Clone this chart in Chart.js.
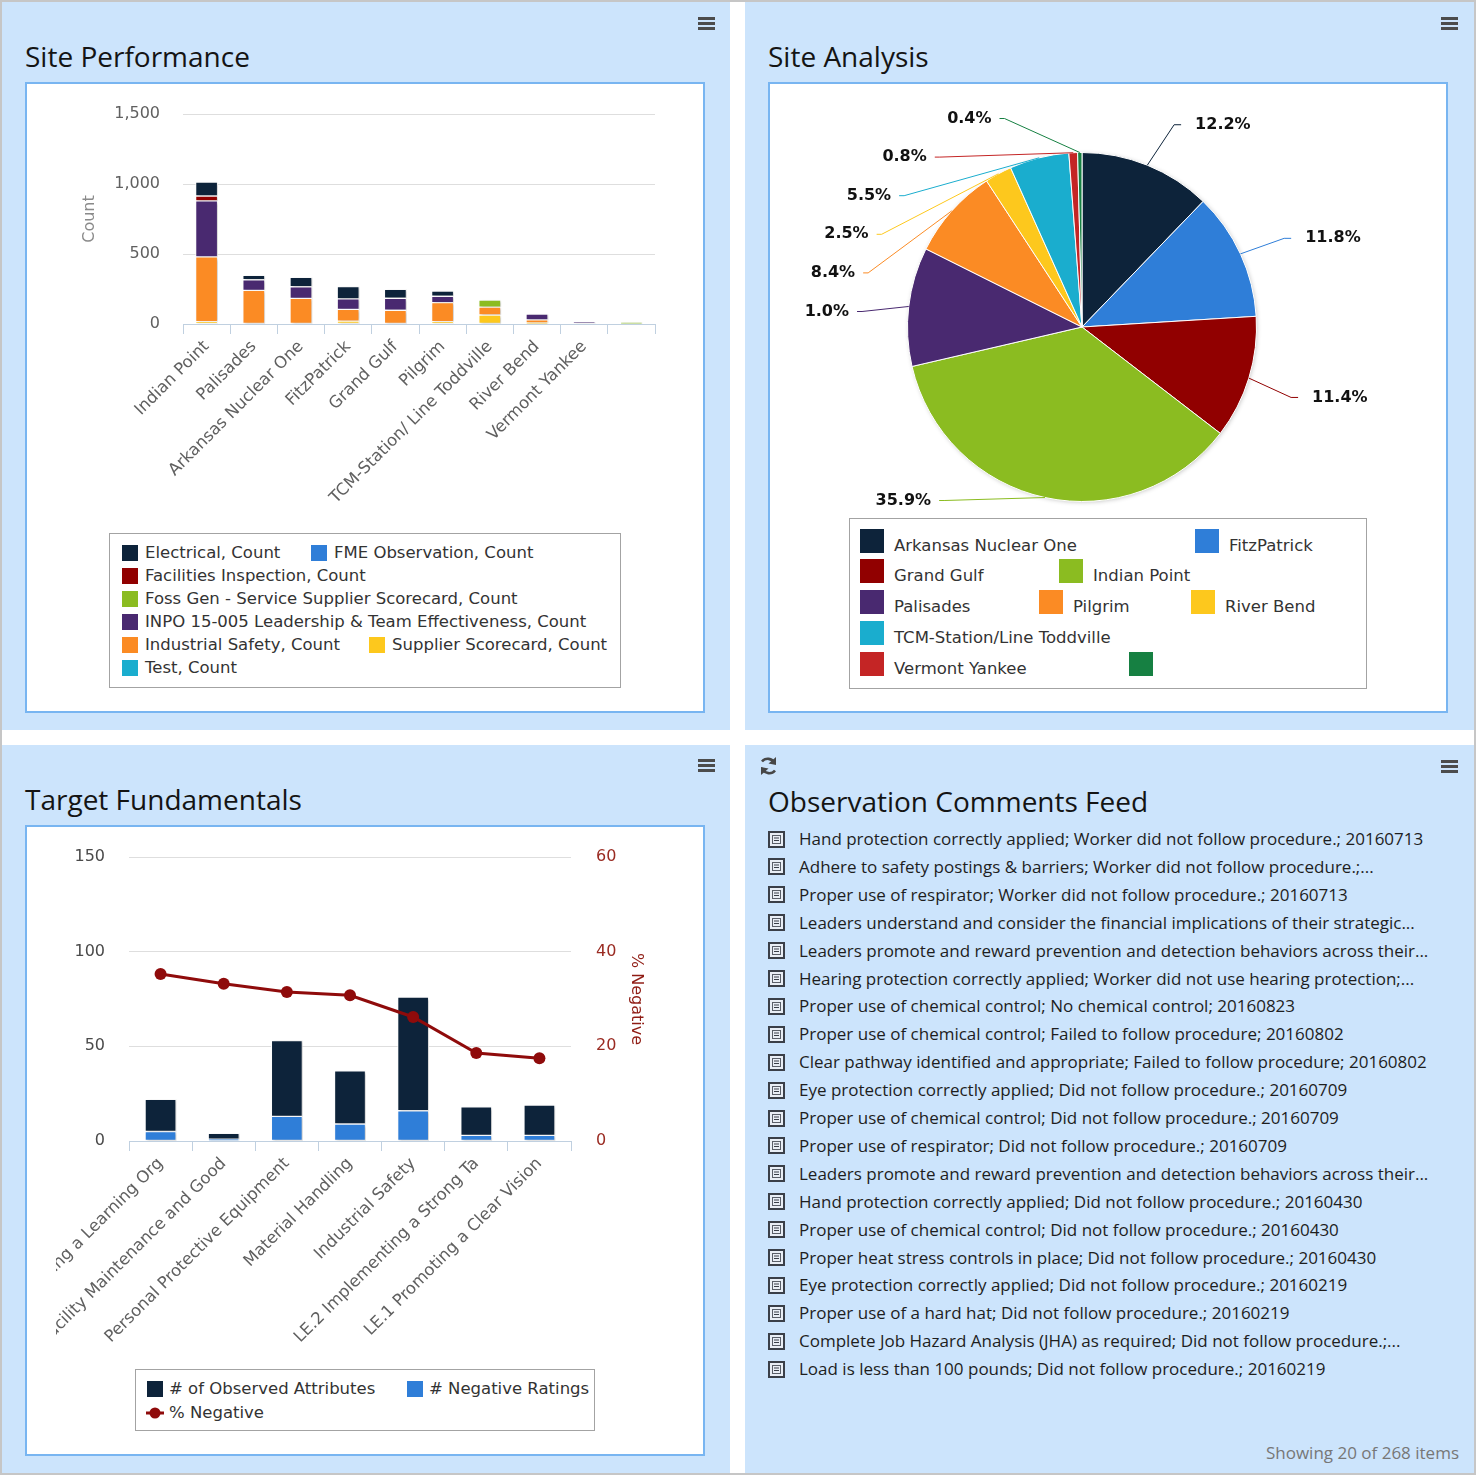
<!DOCTYPE html>
<html>
<head>
<meta charset="utf-8">
<title>Dashboard</title>
<script src="https://cdn.jsdelivr.net/npm/chart.js@4.4.1/dist/chart.umd.min.js"></script>
<style>
  html, body { margin:0; padding:0; background:#fff; }
  #page { position:relative; width:1476px; height:1475px; overflow:hidden; background:#fff; }
  #frame { position:absolute; left:0; top:0; width:1476px; height:1475px; box-sizing:border-box; border:2px solid #c6c6c6; }
  .panel { position:absolute; background:#cce4fc; }
  .box { position:absolute; background:#fff; border:2px solid #78b5f1; box-sizing:border-box; }
  .title { position:absolute; font-family:'Open Sans', sans-serif; font-size:28px; line-height:1; color:#141414; white-space:nowrap; }
  .menu { position:absolute; width:17px; height:14px; }
  .menu i { position:absolute; left:0; width:17px; height:3px; background:#4c4c4c; }
  canvas { position:absolute; }
  .legend { position:absolute; background:#fff; border:1px solid #a3a3a3; box-sizing:border-box; }
  .li { position:absolute; font-family:'DejaVu Sans', sans-serif; font-size:16.5px; line-height:1; color:#333; white-space:nowrap; }
  .sym { position:absolute; }
  .feed { position:absolute; font-family:'Open Sans', sans-serif; font-size:17px; line-height:1; color:#1e1e1e; white-space:nowrap; }
</style>
</head>
<body>
<div id="page">
  <div id="frame"></div>
  <div class="panel" style="left:2px;top:2px;width:728px;height:728px;"></div>
  <div class="panel" style="left:745px;top:2px;width:729px;height:728px;"></div>
  <div class="panel" style="left:2px;top:745px;width:728px;height:728px;"></div>
  <div class="panel" style="left:745px;top:745px;width:729px;height:728px;"></div>

  <div class="box" style="left:25px;top:82px;width:680px;height:631px;"></div>
  <div class="box" style="left:768px;top:82px;width:680px;height:631px;"></div>
  <div class="box" style="left:25px;top:825px;width:680px;height:631px;"></div>

  <div class="title" style="left:25px;top:42px;">Site Performance</div>
  <div class="title" style="left:768px;top:42px;">Site Analysis</div>
  <div class="title" style="left:25px;top:785px;">Target Fundamentals</div>
  <div class="title" style="left:768px;top:787px;">Observation Comments Feed</div>

  <div class="menu" style="left:698px;top:17px;"><i style="top:0"></i><i style="top:5px"></i><i style="top:10px"></i></div>
  <div class="menu" style="left:1441px;top:17px;"><i style="top:0"></i><i style="top:5px"></i><i style="top:10px"></i></div>
  <div class="menu" style="left:698px;top:759px;"><i style="top:0"></i><i style="top:5px"></i><i style="top:10px"></i></div>
  <div class="menu" style="left:1441px;top:760px;"><i style="top:0"></i><i style="top:5px"></i><i style="top:10px"></i></div>

  <svg style="position:absolute;left:758px;top:755px;" width="21" height="22" viewBox="0 0 21 22">
    <path d="M16.5 8 A7.5 7.5 0 0 0 4 6.5" fill="none" stroke="#474747" stroke-width="2.6"/>
    <polygon points="18,2 18,10 10.5,8.5" fill="#474747"/>
    <path d="M4.5 14 A7.5 7.5 0 0 0 17 15.5" fill="none" stroke="#474747" stroke-width="2.6"/>
    <polygon points="3,20 3,12 10.5,13.5" fill="#474747"/>
  </svg>

  <canvas id="c1" width="676" height="445" style="left:27px;top:84px;width:676px;height:445px;"></canvas>
  <canvas id="c2" width="676" height="430" style="left:770px;top:84px;width:676px;height:430px;"></canvas>
  <canvas id="c3" width="647" height="535" style="left:56px;top:827px;width:647px;height:535px;"></canvas>

  <div class="legend" style="left:109px;top:533px;width:512px;height:155px;"></div>
  <div class="legend" style="left:849px;top:518px;width:518px;height:171px;"></div>
  <div class="legend" style="left:135px;top:1369px;width:460px;height:62px;"></div>

  <div class="feed" id="feedCount" style="right:17px;top:1444px;color:#777;">Showing 20 of 268 items</div>
</div>

<script>
// ---------------- DATA ----------------
// Site Performance (stacked columns)
const siteCategories = ['Indian Point', 'Palisades', 'Arkansas Nuclear One', 'FitzPatrick', 'Grand Gulf', 'Pilgrim', 'TCM-Station/ Line Toddville', 'River Bend', 'Vermont Yankee', ''];
const seriesNames = ['Electrical, Count', 'FME Observation, Count', 'Facilities Inspection, Count', 'Foss Gen - Service Supplier Scorecard, Count', 'INPO 15-005 Leadership & Team Effectiveness, Count', 'Industrial Safety, Count', 'Supplier Scorecard, Count', 'Test, Count'];
const electricalCount = [100, 31, 67, 88, 64, 38, null, null, null, null];
const fmeObservationCount = [null, null, null, null, null, null, null, null, null, null];
const facilitiesInspectionCount = [35, null, null, null, null, null, null, null, null, null];
const fossGenCount = [null, null, null, null, null, null, 50, null, null, 10];
const inpoLeadershipCount = [400, 76, 83, 76, 86, 45, null, 40, 14, null];
const industrialSafetyCount = [462, 240, 183, 83, 98, 136, 57, 22, null, null];
const supplierScorecardCount = [17, null, null, 21, null, 17, 64, 8, null, null];
const testCount = [null, null, null, null, null, null, null, null, null, null];
const siteYTicks = [0, 500, 1000, 1500];

// Site Analysis (pie)
const pieCategories = ['Arkansas Nuclear One', 'FitzPatrick', 'Grand Gulf', 'Indian Point', 'Palisades', 'Pilgrim', 'River Bend', 'TCM-Station/Line Toddville', 'Vermont Yankee', ''];
const pieValues = [12.2, 11.8, 11.4, 35.9, 11.0, 8.4, 2.5, 5.5, 0.8, 0.4];
const pieValueLabels = ['12.2%', '11.8%', '11.4%', '35.9%', '1.0%', '8.4%', '2.5%', '5.5%', '0.8%', '0.4%'];

// Target Fundamentals
const targetCategories = ['Fostering a Learning Org', 'Facility Maintenance and Good', 'Personal Protective Equipment', 'Material Handling', 'Industrial Safety', 'LE.2 Implementing a Strong Ta', 'LE.1 Promoting a Clear Vision'];
const observedAttributes = [17, 3, 40, 28, 60, 15, 16];
const negativeRatings = [5, 1, 13, 9, 16, 3, 3];
const percentNegative = [35.3, 33.2, 31.5, 30.8, 26.2, 18.6, 17.5];
const targetSeriesNames = ['# of Observed Attributes', '# Negative Ratings', '% Negative'];

// Observation feed
const feedItems = [
  'Hand protection correctly applied; Worker did not follow procedure.; 20160713',
  'Adhere to safety postings & barriers; Worker did not follow procedure.;...',
  'Proper use of respirator; Worker did not follow procedure.; 20160713',
  'Leaders understand and consider the financial implications of their strategic...',
  'Leaders promote and reward prevention and detection behaviors across their...',
  'Hearing protection correctly applied; Worker did not use hearing protection;...',
  'Proper use of chemical control; No chemical control; 20160823',
  'Proper use of chemical control; Failed to follow procedure; 20160802',
  'Clear pathway identified and appropriate; Failed to follow procedure; 20160802',
  'Eye protection correctly applied; Did not follow procedure.; 20160709',
  'Proper use of chemical control; Did not follow procedure.; 20160709',
  'Proper use of respirator; Did not follow procedure.; 20160709',
  'Leaders promote and reward prevention and detection behaviors across their...',
  'Hand protection correctly applied; Did not follow procedure.; 20160430',
  'Proper use of chemical control; Did not follow procedure.; 20160430',
  'Proper heat stress controls in place; Did not follow procedure.; 20160430',
  'Eye protection correctly applied; Did not follow procedure.; 20160219',
  'Proper use of a hard hat; Did not follow procedure.; 20160219',
  'Complete Job Hazard Analysis (JHA) as required; Did not follow procedure.;...',
  'Load is less than 100 pounds; Did not follow procedure.; 20160219'
];

// ---------------- STYLE / LAYOUT ----------------
const seriesColors = ['#0d233a', '#2f7ed8', '#910000', '#8bbc21', '#492970', '#fb8b24', '#fdc81d', '#1aadce'];
const pieColors = ['#0d233a', '#2f7ed8', '#910000', '#8bbc21', '#492970', '#fb8b24', '#fdc81d', '#1aadce', '#c42525', '#168042'];
const navy = '#0d233a', blue = '#2f7ed8', lineRed = '#8f0b0b';
const axisText = '#606060', gridColor = '#dedede', axisLine = '#c0d0e0';
const chartFont = 'DejaVu Sans';

const barLegendPos = [[122,553],[311,553],[122,576],[122,599],[122,622],[122,645],[369,645],[122,668]];
const pieLegendPos = [[860,546],[1195,546],[860,576],[1059,576],[860,607],[1039,607],[1191,607],[860,638],[860,669],[1129,669]];

const page = document.getElementById('page');
function el(tag, cls, style, text) {
  const e = document.createElement(tag);
  if (cls) e.className = cls;
  e.setAttribute('style', style);
  if (text !== undefined) e.textContent = text;
  page.appendChild(e);
  return e;
}

// bar legend
seriesNames.forEach((n, i) => {
  const [x, y] = barLegendPos[i];
  el('div', 'sym', `left:${x}px;top:${y-8}px;width:16px;height:16px;background:${seriesColors[i]};`);
  el('div', 'li', `left:${x+23}px;top:${y-8}px;`, n);
});
// pie legend
pieCategories.forEach((n, i) => {
  const [x, y] = pieLegendPos[i];
  el('div', 'sym', `left:${x}px;top:${y-17}px;width:24px;height:24px;background:${pieColors[i]};`);
  if (n) el('div', 'li', `left:${x+34}px;top:${y-8}px;`, n);
});
// target legend
el('div', 'sym', `left:147px;top:1381px;width:16px;height:16px;background:${navy};`);
el('div', 'li', `left:169px;top:1381px;`, targetSeriesNames[0]);
el('div', 'sym', `left:407px;top:1381px;width:16px;height:16px;background:${blue};`);
el('div', 'li', `left:429px;top:1381px;`, targetSeriesNames[1]);
const ls = document.createElementNS('http://www.w3.org/2000/svg', 'svg');
ls.setAttribute('width', '18'); ls.setAttribute('height', '12');
ls.setAttribute('style', 'position:absolute;left:146px;top:1407px;');
ls.innerHTML = `<line x1="0" y1="6" x2="18" y2="6" stroke="${lineRed}" stroke-width="3"/><circle cx="9" cy="6" r="5.5" fill="${lineRed}"/>`;
page.appendChild(ls);
el('div', 'li', `left:169px;top:1405px;`, targetSeriesNames[2]);

// feed list
feedItems.forEach((t, i) => {
  const cy = 839 + i * 27.9;
  const ic = document.createElementNS('http://www.w3.org/2000/svg', 'svg');
  ic.setAttribute('width', '17'); ic.setAttribute('height', '17');
  ic.setAttribute('style', `position:absolute;left:768px;top:${(cy-8.5).toFixed(1)}px;`);
  ic.innerHTML = '<rect x="1" y="1" width="15" height="15" fill="#e9eef5" stroke="#3a3f48" stroke-width="2"/>' +
    '<rect x="4.5" y="4.5" width="8" height="8" fill="none" stroke="#5a5f68" stroke-width="1"/>' +
    '<line x1="6" y1="7" x2="11" y2="7" stroke="#3a3f48" stroke-width="1"/><line x1="6" y1="9.5" x2="11" y2="9.5" stroke="#3a3f48" stroke-width="1"/>';
  page.appendChild(ic);
  el('div', 'feed', `left:799px;top:${(cy-9).toFixed(1)}px;`, t);
});

// ---------------- PLUGINS ----------------
const barShadow = {
  id: 'barShadow',
  beforeDatasetDraw(chart, args) {
    if (args.meta.type !== 'bar') return;
    const c = chart.ctx; c.save();
    c.shadowColor = 'rgba(0,0,0,0.2)'; c.shadowBlur = 3; c.shadowOffsetX = 2; c.shadowOffsetY = 1;
  },
  afterDatasetDraw(chart, args) {
    if (args.meta.type !== 'bar') return;
    chart.ctx.restore();
  }
};

const pieShadow = {
  id: 'pieShadow',
  beforeDatasetsDraw(chart) {
    const a = chart.getDatasetMeta(0).data[0];
    if (!a) return;
    const c = chart.ctx; c.save();
    c.shadowColor = 'rgba(0,0,0,0.3)'; c.shadowBlur = 5; c.shadowOffsetX = 1; c.shadowOffsetY = 1;
    c.beginPath(); c.arc(a.x, a.y, a.outerRadius - 1, 0, Math.PI * 2); c.fillStyle = '#bbb'; c.fill();
    c.restore();
  }
};

const pieLabels = {
  id: 'pieLabels',
  afterDatasetsDraw(chart) {
    const arcs = chart.getDatasetMeta(0).data;
    const c = chart.ctx;
    const cx = arcs[0].x, cy = arcs[0].y, r = arcs[0].outerRadius;
    const R = r + 49, spacing = 38.6;
    const yMin = cy - r - 34, yMax = cy + r - 1;
    const items = arcs.map((a, i) => {
      const mid = (a.startAngle + a.endAngle) / 2;
      return { i, left: Math.cos(mid) < 0, ex: cx + r * Math.cos(mid), ey: cy + r * Math.sin(mid),
               ny: cy + 5 + R * Math.sin(mid) };
    });
    [true, false].forEach(side => {
      const list = items.filter(it => it.left === side).sort((a, b) => a.ny - b.ny);
      list.forEach((it, k) => {
        let y = Math.min(Math.max(it.ny, yMin), yMax);
        if (k > 0) y = Math.max(y, list[k-1].y + spacing);
        it.y = y;
      });
      for (let k = list.length - 1; k >= 0; k--) {
        const lim = k === list.length - 1 ? yMax : list[k+1].y - spacing;
        if (list[k].y > lim) list[k].y = lim;
      }
    });
    c.save();
    c.font = `bold 16px "${chartFont}"`;
    c.textBaseline = 'middle';
    items.forEach(it => {
      const dy = it.y - cy;
      const w = Math.sqrt(Math.max(R * R - dy * dy, 0));
      const ax = it.left ? cx - w : cx + w;
      c.strokeStyle = pieColors[it.i];
      c.lineWidth = 1;
      c.beginPath();
      c.moveTo(it.left ? ax - 2 : ax + 4, it.y);
      c.lineTo(it.left ? ax + 3 : ax - 3, it.y);
      c.lineTo(it.ex, it.ey);
      c.stroke();
      c.fillStyle = '#111';
      c.textAlign = it.left ? 'right' : 'left';
      c.fillText(pieValueLabels[it.i], it.left ? ax - 10 : ax + 18, it.y);
    });
    c.restore();
  }
};

Chart.defaults.font.family = chartFont;

// ---------------- CHART 1: Site Performance ----------------
const siteSeries = [electricalCount, fmeObservationCount, facilitiesInspectionCount, fossGenCount, inpoLeadershipCount, industrialSafetyCount, supplierScorecardCount, testCount];
const siteDatasets = siteSeries.map((d, i) => ({
  label: seriesNames[i], data: d, backgroundColor: seriesColors[i],
  borderColor: '#ffffff', borderWidth: 1, borderSkipped: false, barThickness: 22, stack: 's'
})).reverse(); // first series on top of the stack

new Chart(document.getElementById('c1'), {
  type: 'bar',
  data: { labels: siteCategories, datasets: siteDatasets },
  options: {
    responsive: false, animation: false,
    layout: { padding: { left: 49, right: 48, top: 30, bottom: 0 } },
    plugins: { legend: { display: false }, tooltip: { enabled: false } },
    scales: {
      x: {
        stacked: true,
        grid: { offset: true, drawOnChartArea: false, drawTicks: true, tickLength: 10, color: axisLine },
        border: { color: axisLine, width: 1 },
        ticks: { autoSkip: false, minRotation: 45, maxRotation: 45, color: axisText, font: { size: 16.5 } },
        afterFit(s) { s.height = 205; s.paddingLeft = 0; s.paddingRight = 0; }
      },
      y: {
        stacked: true, min: 0, max: 1500,
        afterBuildTicks(s) { s.ticks = siteYTicks.map(v => ({ value: v })); },
        ticks: { color: axisText, font: { size: 16 }, padding: 23 },
        grid: { color: ctx => (ctx.tick && ctx.tick.value === 0) ? 'rgba(0,0,0,0)' : gridColor, drawTicks: false },
        border: { display: false },
        title: { display: true, text: 'Count', color: '#8a8a8a', font: { size: 16 } },
        afterFit(s) { s.width = 107; s.paddingTop = 0; s.paddingBottom = 0; }
      }
    }
  },
  plugins: [barShadow]
});

// ---------------- CHART 2: Site Analysis ----------------
new Chart(document.getElementById('c2'), {
  type: 'pie',
  data: { labels: pieCategories, datasets: [{ data: pieValues, backgroundColor: pieColors, borderColor: '#ffffff', borderWidth: 1 }] },
  options: {
    responsive: false, animation: false,
    layout: { padding: { left: 137, right: 189, top: 68, bottom: 12 } },
    plugins: { legend: { display: false }, tooltip: { enabled: false } }
  },
  plugins: [pieShadow, pieLabels]
});

// ---------------- CHART 3: Target Fundamentals ----------------
new Chart(document.getElementById('c3'), {
  type: 'bar',
  data: {
    labels: targetCategories,
    datasets: [
      { type: 'line', label: targetSeriesNames[2], data: percentNegative, yAxisID: 'y1', order: 0,
        borderColor: lineRed, backgroundColor: lineRed, borderWidth: 3, pointRadius: 6,
        pointBackgroundColor: lineRed, pointBorderColor: lineRed, pointBorderWidth: 0, tension: 0 },
      { label: targetSeriesNames[1], data: negativeRatings, backgroundColor: blue, order: 1, stack: 't',
        borderColor: '#ffffff', borderWidth: 1, borderSkipped: false, barThickness: 31 },
      { label: targetSeriesNames[0], data: observedAttributes, backgroundColor: navy, order: 1, stack: 't',
        borderColor: '#ffffff', borderWidth: 1, borderSkipped: false, barThickness: 31 }
    ]
  },
  options: {
    responsive: false, animation: false,
    layout: { padding: { left: 0, right: 53, top: 30, bottom: 0 } },
    plugins: { legend: { display: false }, tooltip: { enabled: false } },
    scales: {
      x: {
        stacked: true,
        grid: { offset: true, drawOnChartArea: false, drawTicks: true, tickLength: 10, color: axisLine },
        border: { color: axisLine, width: 1 },
        ticks: { autoSkip: false, minRotation: 45, maxRotation: 45, color: axisText, font: { size: 16.5 } },
        afterFit(s) { s.height = 221; s.paddingLeft = 0; s.paddingRight = 0; }
      },
      y: {
        stacked: true, min: 0, max: 150, position: 'left',
        ticks: { stepSize: 50, color: '#4a4a4a', font: { size: 16 }, padding: 24 },
        grid: { color: ctx => (ctx.tick && ctx.tick.value === 0) ? 'rgba(0,0,0,0)' : gridColor, drawTicks: false },
        border: { display: false },
        afterFit(s) { s.width = 73; s.paddingTop = 0; s.paddingBottom = 0; }
      },
      y1: {
        min: 0, max: 60, position: 'right',
        ticks: { stepSize: 20, color: '#9a2b22', font: { size: 16 }, padding: 25 },
        grid: { drawOnChartArea: false, drawTicks: false },
        border: { display: false },
        title: { display: true, text: '% Negative', color: '#8f1c14', font: { size: 16 } },
        afterFit(s) { s.width = 79; s.paddingTop = 0; s.paddingBottom = 0; }
      }
    }
  },
  plugins: [barShadow]
});
</script>
</body>
</html>
